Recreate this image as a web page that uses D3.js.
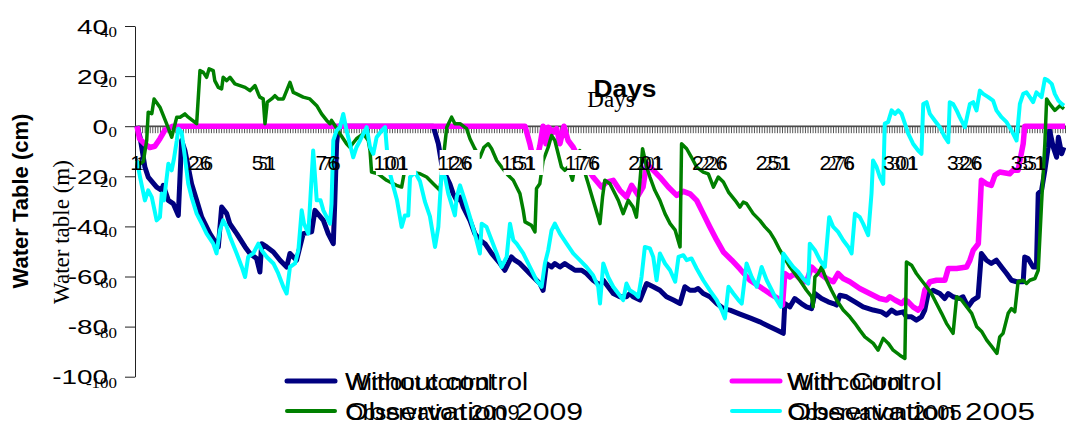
<!DOCTYPE html>
<html><head><meta charset="utf-8">
<script src="https://cdn.jsdelivr.net/npm/d3@7"></script>
<style>body{margin:0;background:#fff} svg{display:block}</style>
</head><body>
<svg id="c" width="1066" height="423"></svg>
<script>
const yTicks = [40,20,0,-20,-40,-60,-80,-100];
const xTickLabels = [1,26,51,76,101,126,151,176,201,226,251,276,301,326,351];
const seriesNames = ["Without control","With Control","Observation 2009","Observation 2005"];
const seriesNamesOverlay = ["Without control","With control","Observation 2009","Observation 2005"];
const seriesColors = ["#000080","#ff00ff","#008000","#00ffff"];

const withoutControl = [[1,0],[2.2,-4.4],[4.1,-16.3],[5.4,-20.3],[8.7,-24.3],[10.7,-25.6],[11.3,-23.6],[13.3,-29.6],[15.2,-30.9],[17.2,-35.6],[18.5,-5.7],[19.8,-9.7],[21.1,-16.3],[22.4,-23],[24.4,-29.6],[26.4,-36.3],[29.6,-42.9],[32.9,-48.2],[34.2,-32.3],[36.2,-34.9],[37.4,-38.9],[40.1,-42.9],[43.4,-48.2],[45.3,-50.8],[47.9,-52.8],[49.2,-58.2],[49.9,-46.9],[51.9,-48.2],[54.5,-50.2],[57.1,-53.5],[59.7,-56.2],[61,-50.8],[62.3,-52.2],[63.6,-53.5],[66.2,-42.9],[69.5,-42.2],[70.8,-33.6],[74.1,-37.6],[76,-42.9],[78,-46.9],[78.6,-29.6],[79.3,-7],[80,0],[117.2,0],[119.2,-7],[120.5,-15],[121.8,-19],[123.7,-23],[125,-26.9],[126.4,-29.6],[127.7,-28.3],[129,-32.3],[131.6,-37.6],[133.5,-42.9],[135.5,-45.5],[137.5,-46.9],[140.1,-50.8],[143.4,-54.8],[145.3,-57.5],[146.6,-54.8],[147.9,-52.2],[149.2,-53.5],[151.2,-54.8],[153.8,-57.5],[156.4,-60.2],[159,-62.8],[160.3,-65.5],[161.6,-54.8],[163.6,-56.2],[164.9,-54.8],[166.9,-56.2],[168.8,-54.8],[170.8,-56.2],[172.8,-57.5],[175.4,-57.5],[177.3,-58.8],[179.9,-61.5],[182.6,-63.5],[183.9,-61.5],[185.8,-64.1],[187.8,-66.8],[190.4,-68.1],[193,-68.1],[194.3,-66.8],[195.6,-68.1],[198.3,-69.4],[200.9,-62.8],[203.5,-64.1],[206.1,-65.5],[208.7,-68.1],[211.4,-69.4],[214,-70.8],[215.9,-64.1],[217.9,-65.5],[219.8,-65.5],[221.1,-64.8],[223.1,-66.8],[225.7,-68.1],[228.4,-70.8],[231,-72.8],[233.6,-73.4],[237.5,-75],[241.4,-76.5],[245.3,-78.1],[249.2,-80.1],[251.9,-81.4],[254.5,-82.7],[255.1,-70.8],[257.1,-72.1],[259,-68.8],[261.6,-70.8],[263.6,-72.1],[265.6,-72.8],[266.9,-66.8],[269.5,-68.8],[272.1,-70.1],[274.1,-70.8],[275.4,-71.4],[276.7,-67.5],[279.3,-68.1],[282.6,-70.1],[285.8,-72.1],[289.8,-73.4],[293,-74.1],[295,-75.4],[297,-73.4],[298.9,-74.7],[301.5,-74.1],[302.8,-76.1],[304.8,-76.1],[306.7,-77.4],[308.7,-76.1],[310,-73.4],[311.3,-66.8],[313.2,-65.5],[315.9,-66.8],[317.8,-68.8],[319.2,-66.8],[321.1,-68.1],[323.7,-68.8],[325,-68.1],[327,-72.1],[328.9,-69.4],[330.9,-68.1],[332.2,-50.8],[334.2,-53.5],[336.1,-54.8],[338.1,-53.5],[340.1,-56.2],[342.1,-58.8],[344,-61.5],[346,-62.1],[348.6,-62.1],[349.2,-52.2],[350.5,-52.8],[352.5,-56.2],[353.8,-56.2],[354.5,-26.9],[355.8,-25.6],[357.1,-17.6],[358.4,-8.4],[359,-1.7],[360.4,-8.4],[361.7,-12.4],[362.4,-4.4],[363.7,-11],[364.6,-8.4]];

const withControl = [[1,0],[2,-5],[4,-7],[6,-8.5],[8,-8],[10,-5],[12,-1.5],[15,0],[153.2,0],[155.1,-7],[157.1,-16.3],[159,-8],[160.3,0],[161.4,-7],[162.3,-0.4],[164.3,-2.4],[165.6,-1],[166.9,-7],[168.5,0],[170.1,-5.7],[172.1,-8.4],[174.7,-13.7],[177.3,-16.3],[179.9,-20.3],[183.2,-24.3],[185.2,-22.3],[187.8,-21.6],[190.4,-25.6],[193,-28.3],[195,-23.6],[197.6,-27.6],[199.5,-24.3],[200.9,-15],[203.5,-17.6],[206.1,-20.3],[209.4,-24.3],[212.7,-27.6],[215.3,-26],[217.9,-27],[220.5,-29.6],[223.1,-34.9],[225.7,-40.2],[228.4,-45.5],[231,-50.2],[234.3,-53.5],[237.5,-57],[241.4,-61.5],[245.3,-64.1],[249.2,-66.8],[252.5,-68.8],[254.2,-71.4],[255.1,-58.8],[257.1,-60.2],[259,-58.8],[261.6,-61.5],[263.6,-62.1],[265.6,-56.2],[266.9,-57.5],[268.9,-58.8],[271.5,-60.8],[274.1,-62.1],[276,-58.8],[278,-60.8],[280.6,-62.1],[284.5,-64.8],[288.4,-66.8],[292.3,-68.8],[295,-69.4],[296.3,-68.1],[298.3,-69.4],[300.9,-70.8],[302.2,-69.4],[303.5,-70.1],[305.4,-72.1],[307.4,-73.4],[308.7,-72.1],[310,-65.5],[312,-62.1],[314.6,-61.5],[317.9,-61.5],[319.2,-56.8],[322.5,-56.8],[326.4,-56.2],[327.7,-53.5],[329,-49.5],[331,-46.9],[331.6,-34.9],[332.2,-21.6],[334.2,-23],[336.1,-23.6],[337.5,-19.6],[339.4,-18.3],[343.3,-19],[344.6,-17.6],[346.6,-17.6],[348.6,-7],[349.2,0],[365,0]];

const observation2009 = [[1,-14],[2.2,-15],[3.5,-14],[4.8,-5.7],[5.4,5.6],[6.8,5],[7.7,10.9],[10,7.6],[12.6,1],[14.6,-4.4],[16.6,3.6],[17.9,3.6],[19.8,4.9],[21.1,3.6],[24.4,1],[25.7,22.2],[27,21.5],[28.3,19.5],[29.3,22.9],[30.9,22.2],[31.5,18.2],[32.9,15.5],[34.2,14.9],[34.8,19.5],[36.2,18.2],[37.5,19.5],[39.4,16.9],[41.4,16.2],[43.4,15.5],[45.3,14.2],[47.3,16.2],[48.6,12.9],[49.2,11.6],[50.5,10.9],[51.2,1],[52.1,9.6],[53.8,10.9],[55.1,12.2],[56.4,10.9],[58.4,10.9],[59.7,14.2],[61,17.5],[62.3,13.5],[63.6,12.9],[66.2,11.6],[68.8,10.9],[71.5,8.2],[73.4,4.9],[75.4,2.3],[76.7,1],[77.3,2.3],[78.6,0.3],[80.6,-3],[83.2,-7],[84.5,-8.4],[87.1,-5],[89.8,-3],[91.7,-5.7],[92.4,-9.7],[93,-18.3],[95.6,-19],[98.9,-21.6],[102.8,-23.6],[104.8,-24.3],[106.1,-17],[108.7,-18.3],[112,-19],[114.6,-20.3],[117.2,-23],[119.8,-25.6],[122.5,-0.4],[124.4,3.6],[125.7,1],[127.7,1],[130.3,-1],[131.6,-5],[133.5,-9],[135.5,-12.4],[137.1,-8.4],[138.8,-7],[140.1,-9],[142.1,-13.7],[144,-16.3],[146.6,-19.6],[148.6,-21.6],[149.9,-24.3],[151.2,-26.9],[152.5,-33.6],[153.2,-38.2],[155.7,-39.6],[157.1,-42.2],[157.7,-24.9],[159,-23],[160.3,-13.7],[162.3,-8.4],[163.6,-3.7],[164.9,-5.7],[166.2,-11],[167.5,-16.3],[168.8,-17.6],[170.1,-16.3],[171.8,-21.6],[173.4,-12.4],[174.7,-9.7],[176,-16.3],[178,-23],[179.9,-29.6],[181.9,-36.3],[182.6,-38.9],[183.6,-28.3],[184.5,-21.6],[186.5,-23],[187.8,-25.6],[189.8,-29.6],[191.7,-34.9],[193.7,-29.6],[195.6,-32.3],[196.9,-36.3],[198.3,-21.6],[199.3,-9],[200.9,-16.3],[202.2,-20.3],[204.1,-25.6],[206.1,-29.6],[208.1,-34.9],[210.1,-38.9],[212.1,-41.5],[214,-48.2],[214.6,-7],[216.6,-9],[218.5,-12.4],[220.5,-16.3],[223.1,-18.3],[225.1,-19],[227.1,-24.3],[229,-20.3],[231,-22.3],[233,-26.3],[235.6,-29.6],[237.5,-32.3],[238.8,-30.3],[240.1,-30.9],[242.7,-34.9],[245.3,-37.6],[247.3,-40.2],[249.2,-42.2],[251.2,-45.5],[253.2,-49.5],[255.1,-52.8],[257.1,-56.2],[259,-58.8],[261,-61.5],[263.6,-65.5],[265.6,-68.1],[266.2,-72.1],[266.9,-60.2],[268.2,-58.8],[269.5,-56.2],[271.5,-61.5],[273.4,-65.5],[275.4,-69.4],[278,-73.4],[280.6,-76.1],[282.6,-78.7],[284.5,-81.4],[286.5,-84.1],[289.8,-86.7],[291.7,-89.4],[293.7,-84.7],[295.7,-86.7],[297.6,-89.4],[300.2,-91.4],[302.2,-92.7],[302.8,-54.2],[304.8,-55.5],[306.7,-58.8],[308.7,-61.5],[310.7,-64.1],[312.6,-66.8],[314.6,-70.8],[316.6,-74.7],[318.5,-78.7],[321.1,-82.7],[322.5,-68.1],[324.4,-69.4],[326.4,-72.1],[328.4,-74.7],[330.4,-80.1],[332.4,-82.1],[334.3,-85.4],[336.3,-88],[338.3,-90.7],[339.4,-84.1],[340.7,-82.7],[342.7,-74.7],[344,-72.8],[345.3,-74.1],[346.6,-62.1],[348.6,-61.5],[349.9,-62.8],[351.2,-61.5],[353.2,-60.8],[354.5,-57.5],[355.8,-30.9],[357.1,-7],[357.8,10.9],[359,8.9],[361,6.3],[363,8.2],[364.6,6.9]];

const observation2005 = [[1,-13.7],[2.2,-20.3],[4.1,-29.6],[5.4,-25.6],[6.8,-28.3],[8.7,-37.6],[10,-36.3],[10.7,-26.9],[11.6,-29.6],[13.3,-15],[14.6,-17.6],[15.5,-13],[16.6,-5.7],[17.2,-1],[18.5,-2.4],[19.8,-12.4],[21.1,-23],[22.4,-28.3],[24.4,-34.9],[26.4,-38.9],[28.3,-42.9],[30.9,-46.9],[32.2,-50.8],[33.5,-41.6],[34.8,-37.6],[36.2,-40.2],[37.5,-44.2],[40.1,-50.8],[42.1,-56.2],[43.4,-60.2],[44.6,-52.2],[46.6,-50.8],[48.6,-46.9],[49.9,-49.5],[51.9,-52.2],[54.5,-54.8],[56.4,-58.8],[58.4,-64.1],[59.7,-66.8],[61,-56.2],[63,-54.8],[64.3,-49.5],[65.6,-33.6],[66.5,-38.9],[68.2,-42.9],[70.1,-9.7],[71.5,-29.6],[73,-29.6],[74.1,-33.6],[76.7,-38.9],[77.3,-30.9],[78,-5.7],[79.3,-1.7],[80.6,-0.4],[81.9,4.9],[83.2,-1.7],[84.5,-7],[85.8,-12.4],[87.1,-8.4],[88.5,-5.7],[89.8,-3],[91.1,-0.4],[92.4,-8.4],[93.7,-11],[95,-4.4],[97,-1.7],[98.3,-0.4],[99.6,-16.3],[101.6,-24.3],[103,-29.6],[104.8,-40.2],[106.1,-35.6],[107.4,-35.6],[108.1,-20.3],[110,-18.3],[112,-22],[113.9,-30],[115.9,-36],[117.9,-48.2],[119.2,-40.2],[119.8,-29.6],[120.5,-18.3],[121.8,-20.3],[123.1,-26.9],[125.7,-35.6],[126.4,-28.3],[127.7,-23.6],[129.6,-29.6],[131.6,-36.3],[133.5,-42.9],[135.5,-50.8],[136.2,-38.9],[138.1,-40.2],[140.1,-45.5],[142.1,-50.8],[144,-56.2],[146,-52.2],[147.3,-38.9],[148.6,-45.5],[149.9,-46.9],[152.5,-50.8],[155.1,-56.2],[157.7,-61.5],[159.7,-64.1],[161,-54.8],[162.3,-49.5],[163.6,-41.6],[164.9,-38.9],[166.9,-42.9],[169.5,-46.9],[172.1,-50.8],[174.7,-53.5],[177.3,-56.2],[179.9,-59.5],[181.9,-64.1],[182.6,-70.8],[183.9,-54.8],[185.8,-60.2],[187.8,-64.1],[189.8,-66.8],[191.7,-69.4],[193,-62.8],[194.3,-65.5],[196.3,-66.8],[197.6,-68.1],[198.9,-60.2],[200.2,-48.2],[202.2,-48.8],[203.5,-52.2],[204.8,-61.5],[206.1,-50.8],[208.1,-54.8],[210.1,-57.5],[212.1,-62.1],[213.4,-52.2],[215.3,-51.5],[216.6,-53.5],[218.5,-52.8],[220.5,-56.8],[223.1,-61.5],[225.7,-65.5],[228.4,-69.4],[230.3,-73.4],[231.6,-76.7],[233,-64.1],[234.9,-66.8],[236.9,-69.4],[238.2,-70.8],[240.1,-54.8],[242.1,-60.2],[244.1,-64.1],[246,-56.2],[248,-61.5],[250,-65.5],[251.9,-69.4],[253.5,-72.1],[254.5,-50.8],[256.4,-53.5],[258.4,-56.2],[260.4,-58.2],[262.3,-60.8],[264.3,-62.8],[264.9,-46.9],[266.9,-49.5],[268.9,-53.5],[270.8,-56.2],[272.5,-36.3],[274.1,-40.2],[276,-42.2],[278,-45.5],[280,-48.2],[281.3,-50.8],[282.6,-34.9],[284.5,-36.3],[285.8,-38.9],[287.8,-43.5],[289.1,-26.9],[289.7,-13.7],[291.1,-16.3],[292.4,-20.3],[293.7,-23],[294.3,1],[295.6,1.6],[297,6.3],[298.3,4.9],[299.6,6.3],[300.9,4.9],[302.2,1],[303.5,-3],[305.4,-7],[307.4,-9.7],[308.7,-11],[309.4,8.9],[310.7,9.6],[312,4.9],[313.9,2.3],[315.9,-0.4],[317.9,-4.4],[319.2,-6.4],[319.8,9.6],[321.1,8.9],[322.5,6.3],[323.7,3.6],[325.7,-0.4],[327.7,8.9],[329,9.6],[330.3,6.3],[331.6,14.2],[332.9,12.9],[334.9,11.6],[336.8,10.2],[338.1,6.3],[340.1,3.6],[342.1,1.6],[344,-1.7],[346,-5.7],[347.3,8.9],[348.6,12.9],[349.9,13.5],[351.2,11.6],[352.5,9.6],[353.8,13.5],[355.8,11.6],[357.1,18.9],[358.4,18.2],[359.8,16.9],[361,12.9],[362.4,10.2],[363.7,8.9],[364.6,8.2]];

const seriesData = [withoutControl, withControl, observation2009, observation2005];
const seriesWidths = [5, 5.5, 3.5, 4];
const legendWidths = [5, 5, 4, 4];
const drawOrder = [0, 1, 2, 3];

const svg = d3.select("#c");
const x = d3.scaleLinear().domain([1, 365]).range([137, 1065]);
const y = d3.scaleLinear().domain([-100, 40]).range([376.7, 26]);
const SANS = "'Liberation Sans', Arial, sans-serif";
const SERIF = "'Liberation Serif', 'Times New Roman', serif";

// Y axis
const yAxis = svg.append("g").attr("transform", "translate(135,0)")
  .call(d3.axisLeft(y).tickValues(yTicks).tickSize(10).tickSizeOuter(0).tickFormat(""));
yAxis.select(".domain").attr("stroke", "#222");
yAxis.selectAll(".tick line").attr("stroke", "#222");

// X axis (at value 0)
const xAxis = svg.append("g").attr("transform", `translate(0,${y(0)})`)
  .call(d3.axisBottom(x).tickValues(d3.range(1, 366)).tickSize(7).tickSizeOuter(0).tickFormat(""));
xAxis.select(".domain").attr("stroke", "#444");
xAxis.selectAll(".tick line").attr("stroke", "#555").attr("stroke-width", 1);
svg.append("line").attr("x1", 135).attr("x2", 1066).attr("y1", y(0)).attr("y2", y(0))
  .attr("stroke", "#444").attr("stroke-width", 1.2);

// Series lines
const line = d3.line().x(d => x(d[0])).y(d => y(d[1]));
drawOrder.forEach(i => {
  svg.append("path").datum(seriesData[i])
    .attr("fill", "none").attr("stroke", seriesColors[i])
    .attr("stroke-width", seriesWidths[i]).attr("stroke-linejoin", "round")
    .attr("d", line);
});

// white label boxes occluding the lines behind some labels
const boxedLabels = [101, 126, 151, 176];
boxedLabels.forEach(d => {
  svg.append("rect").attr("x", x(d) - 16).attr("y", 150).attr("width", 40).attr("height", 25).attr("fill", "#fff");
});

// X tick labels: sans + serif overlay
xTickLabels.forEach(d => {
  svg.append("text").attr("x", x(d) - 1).attr("y", 170).attr("text-anchor", "middle")
    .attr("font-family", SANS).attr("font-size", 21).attr("fill", "#000").text(d);
  svg.append("text").attr("x", x(d) + 3).attr("y", 170).attr("text-anchor", "middle")
    .attr("font-family", SERIF).attr("font-size", 18).attr("fill", "#000").text(d);
});

// Y tick labels: sans (stretched) + serif overlay
yTicks.forEach(v => {
  svg.append("text").attr("transform", `translate(108,${y(v) + 7.5}) scale(1.33,1)`)
    .attr("text-anchor", "end").attr("font-family", SANS).attr("font-size", 21).attr("fill", "#000").text(v);
  svg.append("text").attr("transform", `translate(117,${y(v) + 11}) scale(1.13,1)`)
    .attr("text-anchor", "end").attr("font-family", SERIF).attr("font-size", 15).attr("fill", "#000").text(v);
});

// Axis titles
svg.append("text").attr("transform", "translate(28,201) rotate(-90)").attr("text-anchor", "middle")
  .attr("font-family", SANS).attr("font-weight", "bold").attr("font-size", 22).text("Water Table (cm)");
svg.append("text").attr("transform", "translate(69,232) rotate(-90)").attr("text-anchor", "middle")
  .attr("font-family", SERIF).attr("font-size", 23).text("Water table (m)");
svg.append("text").attr("x", 625).attr("y", 97).attr("text-anchor", "middle")
  .attr("font-family", SANS).attr("font-weight", "bold").attr("font-size", 23)
  .attr("textLength", 63).attr("lengthAdjust", "spacingAndGlyphs").text("Days");
svg.append("text").attr("x", 611).attr("y", 107).attr("text-anchor", "middle")
  .attr("font-family", SERIF).attr("font-size", 23).text("Days");

// Legend
const legendPos = [
  {lx: 287, ty: 381, tx: 345, w: 183},
  {lx: 732, ty: 381, tx: 787, w: 155},
  {lx: 287, ty: 411, tx: 345, w: 238},
  {lx: 732, ty: 411, tx: 787, w: 248}
];
seriesNames.forEach((name, i) => {
  const p = legendPos[i];
  svg.append("line").attr("x1", p.lx).attr("x2", p.lx + 48).attr("y1", p.ty).attr("y2", p.ty)
    .attr("stroke", seriesColors[i]).attr("stroke-width", legendWidths[i]).attr("stroke-linecap", "round");
  svg.append("text").attr("x", p.tx).attr("y", p.ty + 9).attr("font-family", SANS).attr("font-size", 23)
    .attr("textLength", p.w).attr("lengthAdjust", "spacingAndGlyphs").text(name);
  svg.append("text").attr("x", p.tx + 1).attr("y", p.ty + 9).attr("font-family", SANS).attr("font-size", 22)
    .text(seriesNamesOverlay[i]);
});
</script>
</body></html>
